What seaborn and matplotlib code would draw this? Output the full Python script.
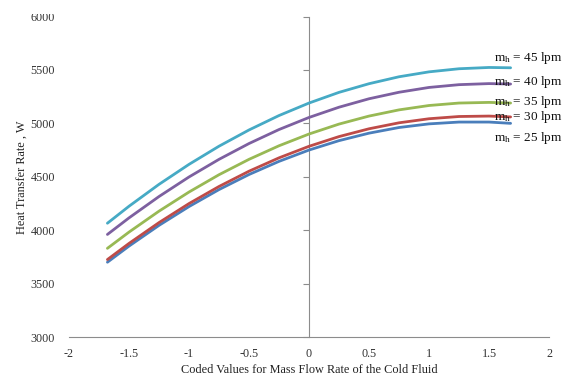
import matplotlib
matplotlib.use("Agg")
import matplotlib.pyplot as plt
import matplotlib.patches as mpatches
import seaborn as sns
import pandas as pd

# Coded levels of the cold-fluid mass flow rate
coded_x = [-1.68, -1.5, -1.25, -1.0, -0.75, -0.5, -0.25, 0.0,
           0.25, 0.5, 0.75, 1.0, 1.25, 1.5, 1.68]

# Heat transfer rate (W) for each hot-fluid flow rate
q_25 = [3700, 3851, 4045, 4221, 4380, 4521, 4644, 4750,
        4838, 4908, 4961, 4995, 5012, 5012, 5000]
q_30 = [3725, 3876, 4071, 4249, 4409, 4552, 4677, 4785,
        4876, 4949, 5005, 5043, 5064, 5068, 5060]
q_35 = [3830, 3982, 4178, 4357, 4519, 4663, 4790, 4900,
        4993, 5068, 5126, 5167, 5190, 5196, 5190]
q_40 = [3960, 4115, 4315, 4498, 4663, 4811, 4942, 5055,
        5151, 5230, 5291, 5336, 5362, 5372, 5368]
q_45 = [4065, 4224, 4429, 4616, 4786, 4938, 5073, 5190,
        5290, 5371, 5436, 5482, 5511, 5523, 5520]

series_names = ["25 lpm", "30 lpm", "35 lpm", "40 lpm", "45 lpm"]
series_values = [q_25, q_30, q_35, q_40, q_45]
series_colors = ["#4A7EBB", "#BE4B48", "#98B954", "#7D60A0", "#46AAC5"]

# Label anchor heights (W) for the curve captions
label_y = [4863, 5059, 5200, 5387, 5612]
label_x = 1.54

x_ticks = [-2, -1.5, -1, -0.5, 0, 0.5, 1, 1.5, 2]
y_ticks = [3000, 3500, 4000, 4500, 5000, 5500, 6000]

rows = []
for name, vals in zip(series_names, series_values):
    for x, v in zip(coded_x, vals):
        rows.append({"x": x, "q": v, "flow": name})
df = pd.DataFrame(rows)

sns.set_theme(style="white")
plt.rcParams["font.family"] = ["Liberation Serif", "DejaVu Serif"]
plt.rcParams["mathtext.fontset"] = "custom"
plt.rcParams["mathtext.rm"] = "Liberation Serif"
plt.rcParams["mathtext.it"] = "Liberation Serif:italic"

fig = plt.figure(figsize=(5.77, 3.83), dpi=100)
ax = fig.add_axes([0.1196, 0.1201, 0.8319, 0.8368])

sns.lineplot(data=df, x="x", y="q", hue="flow", palette=series_colors,
             linewidth=2.0, legend=False, ax=ax, sort=True)

ax.set_xlim(-2, 2)
ax.set_ylim(3000, 6000)
ax.set_xticks(x_ticks)
ax.set_xticklabels(["-2", "-1.5", "-1", "-0.5", "0", "0.5", "1", "1.5", "2"])
ax.set_yticks(y_ticks)
ax.set_yticklabels([str(t) for t in y_ticks])

for s in ["top", "right", "left"]:
    ax.spines[s].set_visible(False)
ax.spines["bottom"].set_color("#8c8c8c")
ax.spines["bottom"].set_linewidth(0.8)

ax.tick_params(axis="x", direction="out", length=4, width=0.8,
               color="#8c8c8c", labelsize=8.7, labelcolor="#333333", pad=4)
ax.tick_params(axis="y", length=0, labelsize=8.7, labelcolor="#333333", pad=10)

# Vertical axis line crossing at x = 0, with its own ticks
mid = ax.secondary_yaxis(0.5)
mid.set_yticks(y_ticks)
mid.set_yticklabels([])
for sp in mid.spines.values():
    sp.set_color("#8c8c8c")
    sp.set_linewidth(0.8)
mid.yaxis.set_ticks_position("left")
mid.tick_params(axis="y", direction="out", length=4, width=0.8,
                color="#8c8c8c", left=True, right=False)

ax.set_xlabel("Coded Values for Mass Flow Rate of the Cold Fluid",
              fontsize=8.8, color="#222222", labelpad=3)
ax.set_ylabel("Heat Transfer Rate , W", fontsize=8.8, color="#222222", labelpad=1)

for name, y in zip(series_names, label_y):
    ax.text(label_x, y, r"m$_\mathrm{h}$ = " + name, fontsize=9.5,
            color="#111111", va="center", ha="left")

# The figure's top edge trims the upper part of the first tick label
fig.patches.append(mpatches.Rectangle((0, 1 - 14 / 383), 1, 14 / 383,
                                      transform=fig.transFigure,
                                      facecolor="white", edgecolor="none",
                                      zorder=10))

fig.savefig("out.png", dpi=100)
